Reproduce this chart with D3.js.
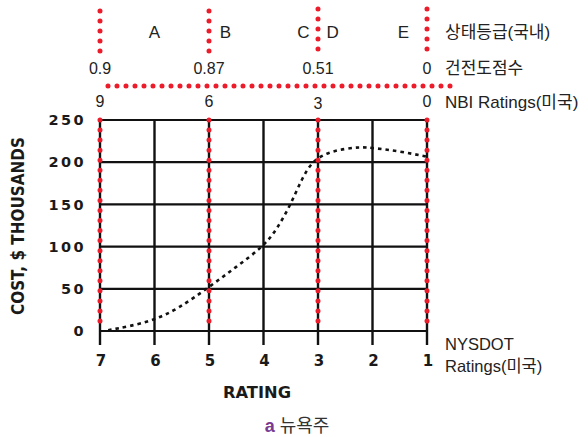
<!DOCTYPE html>
<html>
<head>
<meta charset="utf-8">
<script src="https://cdn.jsdelivr.net/npm/d3@7"></script>
<style>
  html, body { margin: 0; padding: 0; background: #fff; }
  svg { display: block; }
</style>
</head>
<body>
<svg id="chart" width="588" height="437"></svg>
<script>
// NYSDOT rating scale (x) and repair cost (y)
const ratings = [7, 6, 5, 4, 3, 2, 1];
const costTicks = [0, 50, 100, 150, 200, 250];

// cost curve: rating vs. cost in $ thousands
const curveRating = [6.85, 6.5, 6, 5.55, 5, 4.5, 4, 3.75, 3.5, 3.3, 3.1, 2.8, 2.5, 2.23, 2, 1.5, 1];
const curveCost   = [1,    5,   13, 27,   52, 76,  100, 121, 150, 180, 202, 212, 216, 218, 217, 213, 206.5];

// NBI rating (US) boundaries and the matching domestic health scores
const nbiTicks = [9, 6, 3, 0];
const scoreLabels = ["0.9", "0.87", "0.51", "0"];

// domestic condition grades and where each sits on the NBI scale
const grades = ["A", "B", "C", "D", "E"];
const gradeAt = [7.5, 5.55, 3.4, 2.6, 0.65];

const svg = d3.select("#chart");
const x = d3.scaleLinear().domain([7, 1]).range([100, 427]);
const nbi = d3.scaleLinear().domain([9, 0]).range([100, 427]);
const y = d3.scaleLinear().domain([0, 250]).range([331, 120]);

const RED = "#ec1c2b";
const INK = "#111";
const axisFont = "'DejaVu Sans', sans-serif";
const labelFont = "'Liberation Sans', Arial, 'Noto Sans CJK KR', sans-serif";

// grid: horizontal lines
svg.append("g").selectAll("line").data(costTicks).join("line")
  .attr("x1", x(7) - 1).attr("x2", x(1) + 1)
  .attr("y1", d => y(d)).attr("y2", d => y(d))
  .attr("stroke", INK).attr("stroke-width", 2.2);

// grid: vertical lines that extend down as tick marks
svg.append("g").selectAll("line").data(ratings).join("line")
  .attr("x1", d => x(d)).attr("x2", d => x(d))
  .attr("y1", y(250) - 1).attr("y2", y(0) + 14)
  .attr("stroke", INK).attr("stroke-width", 2.4);

// y tick labels
svg.append("g").selectAll("text").data(costTicks).join("text")
  .attr("x", 86).attr("y", d => y(d))
  .attr("dy", "0.36em").attr("text-anchor", "end")
  .attr("font-family", axisFont).attr("font-weight", "bold")
  .attr("font-size", 14.5).attr("letter-spacing", 2.4)
  .attr("fill", "#1a1a1a")
  .text(d => d);

// x tick labels
svg.append("g").selectAll("text").data(ratings).join("text")
  .attr("x", d => x(d) + 1).attr("y", 366)
  .attr("text-anchor", "middle")
  .attr("font-family", axisFont).attr("font-weight", "bold")
  .attr("font-size", 15).attr("fill", "#1a1a1a")
  .text(d => d);

// axis titles
svg.append("text")
  .attr("transform", `translate(24,226) rotate(-90)`)
  .attr("text-anchor", "middle")
  .attr("font-family", axisFont).attr("font-weight", "bold")
  .attr("font-size", 18)
  .attr("textLength", 178).attr("lengthAdjust", "spacingAndGlyphs")
  .attr("fill", "#1a1a1a")
  .text("COST, $ THOUSANDS");

svg.append("text")
  .attr("x", 257).attr("y", 398)
  .attr("text-anchor", "middle")
  .attr("font-family", axisFont).attr("font-weight", "bold")
  .attr("font-size", 15)
  .attr("textLength", 68).attr("lengthAdjust", "spacingAndGlyphs")
  .attr("fill", "#1a1a1a")
  .text("RATING");

// cost curve (dotted)
const pts = curveRating.map((r, i) => [r, curveCost[i]]);
svg.append("path")
  .datum(pts)
  .attr("d", d3.line().x(d => x(d[0])).y(d => y(d[1])).curve(d3.curveBasis))
  .attr("fill", "none").attr("stroke", "#111")
  .attr("stroke-width", 2.6).attr("stroke-dasharray", "3.5 4");

// red dotted guide lines at the NBI boundaries, across the plot
const dotted = sel => sel.attr("stroke", RED).attr("stroke-width", 5)
  .attr("stroke-linecap", "round").attr("fill", "none");

svg.append("g").selectAll("line").data(nbiTicks).join("line")
  .attr("x1", d => nbi(d)).attr("x2", d => nbi(d))
  .attr("y1", y(250)).attr("y2", y(0))
  .attr("stroke-dasharray", "0 10.05")
  .call(dotted);

// red dotted separators in the header rows
svg.append("g").selectAll("line").data(nbiTicks).join("line")
  .attr("x1", d => nbi(d)).attr("x2", d => nbi(d))
  .attr("y1", (d, i) => i >= 2 ? 9 : 11).attr("y2", 52)
  .attr("stroke-dasharray", "0 10")
  .call(dotted);

svg.append("line")
  .attr("x1", 108).attr("x2", 458).attr("y1", 86).attr("y2", 86)
  .attr("stroke-dasharray", "0 9")
  .call(dotted);

// header row 1: domestic grades
svg.append("g").selectAll("text").data(grades).join("text")
  .attr("x", (d, i) => nbi(gradeAt[i])).attr("y", 38)
  .attr("text-anchor", "middle")
  .attr("font-family", labelFont).attr("font-size", 17).attr("fill", "#222")
  .text(d => d);

// header row 2: health scores
svg.append("g").selectAll("text").data(scoreLabels).join("text")
  .attr("x", (d, i) => nbi(nbiTicks[i])).attr("y", 74)
  .attr("text-anchor", "middle")
  .attr("font-family", labelFont).attr("font-size", 16).attr("fill", "#222")
  .text(d => d);

// header row 3: NBI ratings
svg.append("g").selectAll("text").data(nbiTicks).join("text")
  .attr("x", d => nbi(d)).attr("y", (d, i) => i === 2 ? 109 : 107)
  .attr("text-anchor", "middle")
  .attr("font-family", labelFont).attr("font-size", 16).attr("fill", "#222")
  .text(d => d);

// row titles on the right
const rowTitle = (t, yy, size) => svg.append("text")
  .attr("x", 445).attr("y", yy)
  .attr("font-family", labelFont).attr("font-size", size).attr("fill", "#222")
  .text(t);
rowTitle("상태등급(국내)", 38, 17);
rowTitle("건전도점수", 74, 17);
rowTitle("NBI Ratings(미국)", 108, 17);
rowTitle("NYSDOT", 350, 16.5);
rowTitle("Ratings(미국)", 372, 16.5);

// caption
const cap = svg.append("text")
  .attr("x", 297).attr("y", 432)
  .attr("text-anchor", "middle")
  .attr("font-family", labelFont).attr("font-size", 18);
cap.append("tspan").attr("font-weight", "bold").attr("fill", "#7b3a8e").text("a");
cap.append("tspan").attr("fill", "#333").text(" 뉴욕주");
</script>
</body>
</html>
